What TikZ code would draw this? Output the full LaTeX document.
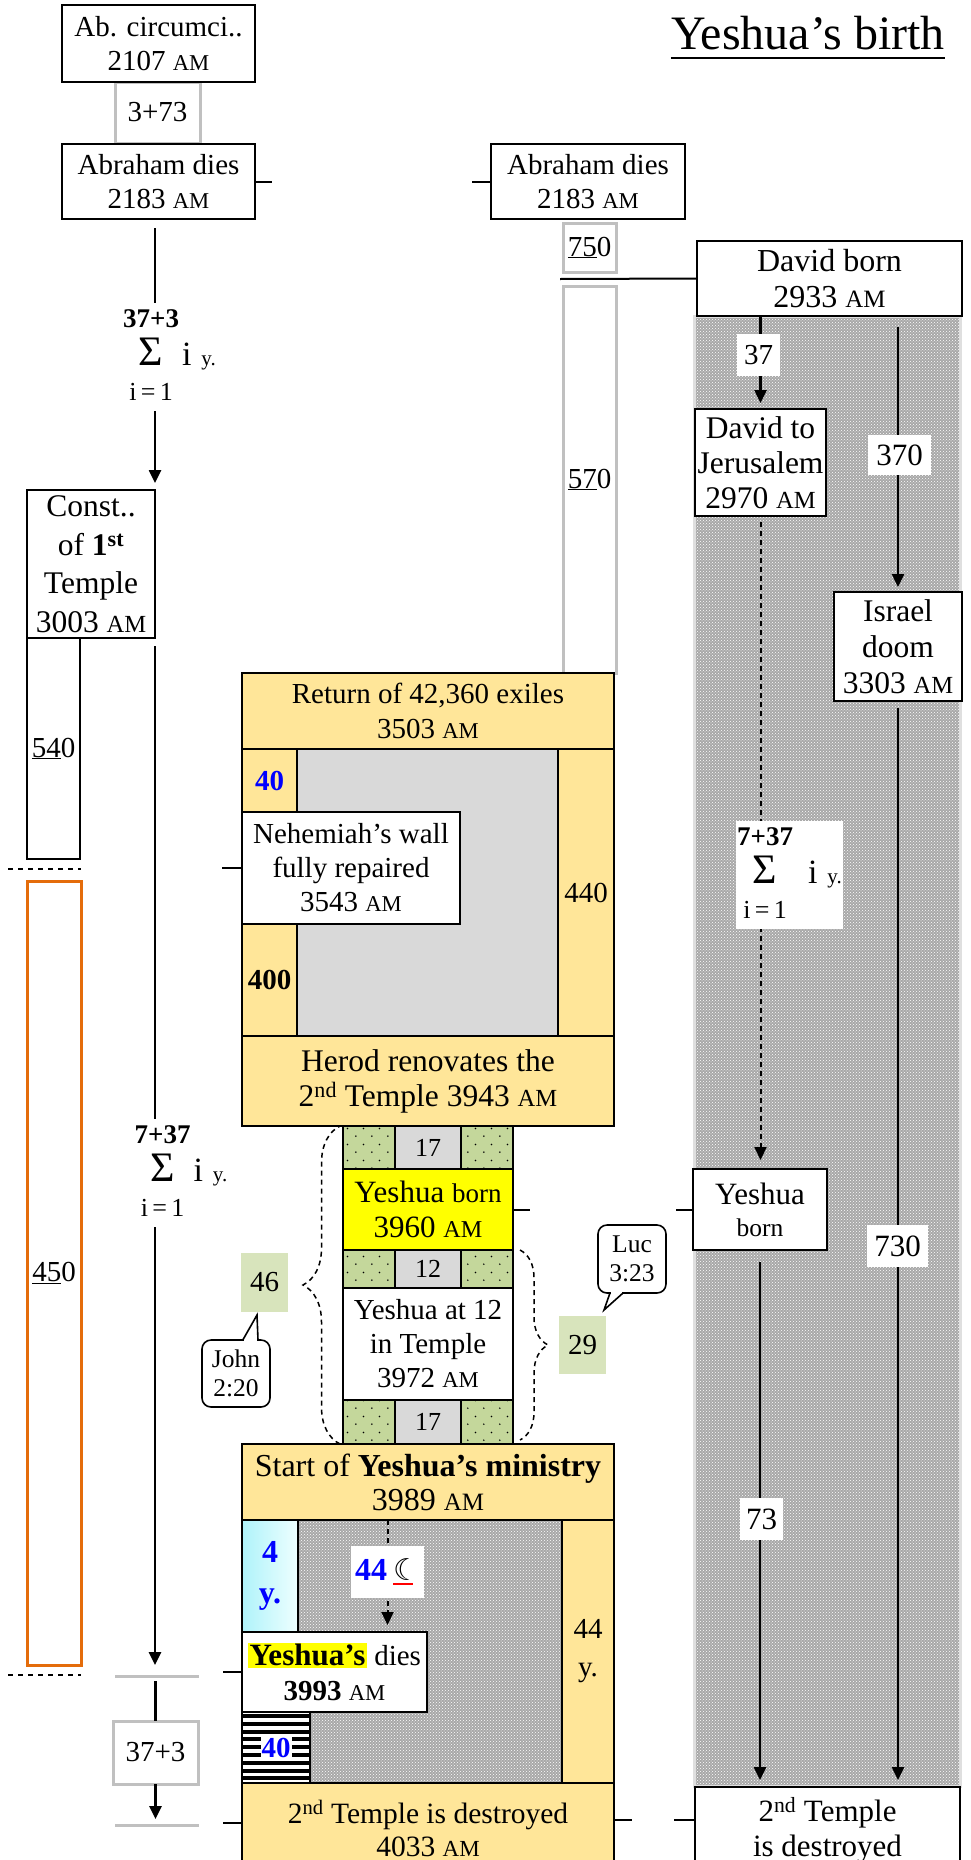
\documentclass[tikz,border=0pt]{standalone}
\usepackage{fontspec}
\setmainfont{Liberation Serif}
\newfontfamily\symfont{DejaVu Sans}
\usepackage{graphicx}
\usetikzlibrary{arrows.meta,patterns,decorations.pathreplacing,calc}
\definecolor{gold}{RGB}{255,230,153}
\definecolor{lgrey}{RGB}{217,217,217}
\definecolor{dotgreen}{RGB}{196,215,155}
\definecolor{pgreen}{RGB}{216,228,188}
\definecolor{orng}{RGB}{228,108,10}
\definecolor{bxgrey}{RGB}{192,192,192}
\definecolor{hlyellow}{RGB}{255,255,0}
\definecolor{numblue}{RGB}{0,0,255}
\definecolor{cyanL}{RGB}{175,243,250}
\definecolor{cyanR}{RGB}{238,255,255}
\pgfdeclarepatternformonly{sparsedots}{\pgfqpoint{0pt}{0pt}}{\pgfqpoint{16pt}{16pt}}{\pgfqpoint{16pt}{16pt}}{%
  \pgfpathcircle{\pgfqpoint{4pt}{4pt}}{0.9pt}%
  \pgfpathcircle{\pgfqpoint{12pt}{12pt}}{0.9pt}%
  \pgfusepath{fill}}
\newcommand\fs[2]{\fontsize{#1}{#2}\selectfont}
\newcommand\fA{\fs{29}{34.5}}
\newcommand\am{\scalebox{0.78}{AM}}
\newcommand\bxat[6]{\node[#1,anchor=north west,inner sep=0pt,outer sep=0pt,align=center,minimum width={#4-#2},minimum height={#5-#3}] (#6) at (#2,#3)}
\newcommand\sumtab[2]{%
  \begin{tabular}{@{}c@{\hspace{#2}}l@{}}
  {\bfseries\fs{27}{34}#1} & \\
  {\fs{42}{34}Σ} & {\fs{34}{34}i}\hspace{10pt}{\fs{21}{34}y.}\\
  {\fs{26}{34}i\,=\,1} & 
  \end{tabular}}
\tikzset{
  bx/.style={draw, line width=2pt},
  gbx/.style={draw=bxgrey, line width=3pt, fill=white},
  lab/.style={fill=white},
  gnum/.style={fill=pgreen},
  arr/.style={line width=2.5pt, -{Triangle[length=13pt,width=12pt]}},
  darr/.style={line width=2pt, dash pattern=on 5pt off 4pt, -{Triangle[length=13pt,width=12pt]}},
  tick/.style={line width=2pt},
  gline/.style={line width=3pt, draw=bxgrey},
  dline/.style={line width=1.8pt, dash pattern=on 5pt off 5pt},
  hatch/.style={preaction={fill=gray!68}, pattern=crosshatch dots, pattern color=white},
  dotcell/.style={bx, preaction={fill=dotgreen}, pattern=sparsedots, pattern color=black},
  bracestyle/.style={line width=1.5pt, dash pattern=on 5pt off 4pt, decorate},
  callout/.style={draw, line width=1.6pt, rounded corners=9pt, fill=white, font=\fs{25.5}{28.5}},
  sumnode/.style={fill=white, inner sep=1pt, font=\fA},
}
\begin{document}
\begin{tikzpicture}[x=1pt,y=-1pt]
\useasboundingbox (0,0) rectangle (970,1860);
\clip (0,0) rectangle (970,1860);

% ---------- title
\node[anchor=base, inner sep=0pt, font=\fs{48}{48}] (title) at (808,50) {Yeshua’s birth};
\draw[line width=2.5pt] ([yshift=-8pt]title.base west) -- ([yshift=-8pt]title.base east);

% ---------- right hatched band
\bxat{hatch, draw=gray!25, line width=3pt}{694}{316}{960}{1786}{rh}{};

% ---------- top left
\bxat{gbx,font=\fA}{115}{82}{200}{143}{g373}{3+73};
\bxat{bx,fill=white,font=\fA}{62}{5}{255}{82}{abc}{Ab. circumci..\\2107 \am};
\bxat{bx,fill=white,font=\fA}{62}{144}{255}{219}{abr1}{Abraham dies\\2183 \am};
\draw[tick] (abr1.east) -- ++(17,0);

\bxat{bx,fill=white,font=\fs{31.5}{38.5}}{27}{490}{155}{638}{cst}{Const..\\of \textbf{1\textsuperscript{st}}\\Temple\\3003 \am};
\bxat{bx,fill=white,font=\fA}{27}{638}{80}{859}{b540}{\underline{54}0};
\bxat{draw=orng, line width=3pt, font=\fA}{27}{881}{81}{1665}{o450}{\underline{45}0};
\coordinate (dl1a) at (8,869); \coordinate (dl1b) at (81,869);
\draw[dline] (dl1a) -- (dl1b);
\coordinate (dl2a) at (8,1675); \coordinate (dl2b) at (81,1675);
\draw[dline] (dl2a) -- (dl2b);

\draw[arr, shorten <=9pt, shorten >=7pt] (abr1.south -| cst.east) -- (cst.north east);
\node[sumnode] (s1) at (169.5,357) {\sumtab{37+3}{3pt}};

\coordinate (g1a) at (115,1676); \coordinate (g1b) at (199,1676);
\draw[gline] (g1a) -- (g1b);
\draw[arr, shorten <=8pt, shorten >=11pt] (cst.south east) -- (cst.east |- g1a);
\node[sumnode] (s2) at (181,1173) {\sumtab{7+37}{3pt}};

\bxat{gbx,font=\fA}{113}{1721}{198}{1784}{g37}{37+3};
\draw[line width=2.5pt, shorten <=5pt] (g37.north |- g1a) -- (g37.north);
\coordinate (g2a) at (115,1825); \coordinate (g2b) at (199,1825);
\draw[gline] (g2a) -- (g2b);
\draw[arr, shorten >=6pt] (g37.south) -- (g37.south |- g2a);

% ---------- upper middle / right
\bxat{bx,fill=white,font=\fA}{491}{144}{685}{219}{abr2}{Abraham dies\\2183 \am};
\draw[tick] (abr2.west) -- ++(-19,0);
\bxat{gbx,font=\fA}{563}{223}{616}{272}{g750}{\underline{75}0};
\bxat{gbx,font=\fA}{563}{286}{616}{673}{g570}{\underline{57}0};

\bxat{bx,fill=white,font=\fs{32}{36}}{697}{241}{962}{316}{db}{David born\\2933 \am};
\coordinate (dbl) at (560,279);
\draw[tick] (dbl) -- (db.west);

\bxat{bx,fill=white,font=\fs{31.5}{35}}{695}{409}{826}{516}{dj}{David to\\Jerusalem\\2970 \am};
\bxat{bx,fill=white,font=\fs{31.5}{36}}{834}{592}{962}{701}{isr}{Israel\\doom\\3303 \am};
\bxat{bx,fill=white,font=\fs{31}{32}}{693}{1169}{827}{1250}{yb2}{Yeshua\\{\fs{25.5}{28}born}};
\bxat{bx,fill=white,font=\fs{31}{35}}{695}{1787}{960}{1873}{td2}{2\textsuperscript{nd} Temple\\is destroyed};

\draw[arr, shorten >=6pt] (dj.north |- db.south) -- (dj.north);
\bxat{lab,font=\fA}{737}{334}{780}{376}{l37}{37};
\draw[arr, shorten <=11pt, shorten >=5pt] (isr.north |- db.south) -- (isr.north);
\bxat{lab,font=\fs{31}{31}}{868}{435}{931}{475}{l370}{370};
\draw[arr, shorten <=7pt, shorten >=7pt] (isr.south) -- (isr.south |- td2.north);
\bxat{lab,font=\fs{31}{31}}{867}{1225}{928}{1267}{l730}{730};
\draw[darr, shorten <=6pt, shorten >=9pt] (dj.south) -- (dj.south |- yb2.north);
\node[sumnode] (s3) at (789.5,875) {\sumtab{7+37}{15pt}};
\draw[arr, shorten <=12pt, shorten >=7pt] (yb2.south) -- (yb2.south |- td2.north);
\bxat{lab,font=\fs{31}{31}}{740}{1498}{783}{1540}{l73}{73};
\draw[tick] (yb2.west) -- ++(-17,0);
\draw[tick] ($(td2.north west)+(0,33)$) -- ++(-21,0);

% ---------- central block
\bxat{bx,fill=gold,font=\fA}{242}{673}{614}{749}{ret}{Return of 42,360 exiles\\3503 \am};
\bxat{bx,fill=lgrey}{297}{749}{558}{1036}{gry}{};
\bxat{bx,fill=gold,font=\fA}{558}{749}{614}{1036}{c440}{440};
\bxat{bx,fill=gold,font=\bfseries\fA,text=numblue}{242}{749}{297}{812}{c40}{40};
\bxat{bx,fill=white,font=\fs{29}{34}}{242}{812}{460}{924}{neh}{Nehemiah’s wall\\fully repaired\\3543 \am};
\draw[tick] (neh.west) -- ++(-20,0);
\bxat{bx,fill=gold,font=\bfseries\fA}{242}{924}{297}{1036}{c400}{400};
\bxat{bx,fill=gold,font=\fs{31.5}{35}}{242}{1036}{614}{1126}{her}{Herod renovates the\\2\textsuperscript{nd} Temple 3943 \am};

\bxat{dotcell}{343}{1126}{395}{1169}{r1a}{};
\bxat{bx,fill=lgrey,font=\fs{26}{26}}{395}{1126}{461}{1169}{r1b}{17};
\bxat{dotcell}{461}{1126}{513}{1169}{r1c}{};
\bxat{bx,fill=hlyellow,font=\fs{31}{35}}{343}{1169}{513}{1250}{yb}{Yeshua {\fs{27}{27}born}\\3960 \am};
\draw[tick] (yb.east) -- ++(17,0);
\bxat{dotcell}{343}{1250}{395}{1288}{r2a}{};
\bxat{bx,fill=lgrey,font=\fs{26}{26}}{395}{1250}{461}{1288}{r2b}{12};
\bxat{dotcell}{461}{1250}{513}{1288}{r2c}{};
\bxat{bx,fill=white,font=\fs{29}{34}}{343}{1288}{513}{1400}{y12}{Yeshua at 12\\in Temple\\3972 \am};
\bxat{dotcell}{343}{1400}{395}{1444}{r3a}{};
\bxat{bx,fill=lgrey,font=\fs{26}{26}}{395}{1400}{461}{1444}{r3b}{17};
\bxat{dotcell}{461}{1400}{513}{1444}{r3c}{};

% braces
\coordinate (lb1) at (340,1444); \coordinate (lb2) at (340,1126);
\draw[bracestyle, decoration={brace, amplitude=37pt}] (lb1) -- (lb2);
\coordinate (rb1) at (520,1250); \coordinate (rb2) at (520,1440);
\draw[bracestyle, decoration={brace, amplitude=28pt}] (rb1) -- (rb2);

\bxat{gnum,font=\fA}{241}{1253}{288}{1312}{g46}{46};
\bxat{gnum,font=\fA}{559}{1316}{606}{1374}{g29}{29};

% callouts
\bxat{callout}{202}{1340}{270}{1407}{john}{John\\2:20};
\fill[white] (243.6,1338.6) rectangle (257.2,1341.4);
\draw[line width=1.6pt, line join=miter] (242.8,1340) -- (257,1315) -- (258,1340);
\bxat{callout}{598}{1225}{666}{1293}{luc}{Luc\\3:23};
\fill[white] (610.8,1291.6) rectangle (622.2,1294.4);
\draw[line width=1.6pt, line join=miter] (610,1293) -- (604,1310) -- (623,1293);

% lower block
\bxat{bx,hatch}{298}{1520}{562}{1783}{hc}{};
\bxat{bx,left color=cyanL,right color=cyanR,font=\bfseries\fs{32}{41},text=numblue}{242}{1520}{298}{1632}{cy}{4\\y.};
\bxat{bx,fill=gold,font=\fs{29}{38}}{562}{1520}{614}{1783}{c44}{44\\y.};
\bxat{bx,fill=gold,font=\fs{32}{34}}{242}{1444}{614}{1520}{sm}{Start of \textbf{Yeshua’s ministry}\\3989 \am};
\bxat{bx,fill=white,font=\fs{29}{35}}{242}{1632}{427}{1712}{ydie}{{\setlength\fboxsep{1.5pt}\colorbox{hlyellow}{\fs{31}{35}\bfseries Yeshua’s}} dies\\\textbf{3993} \am};
\draw[tick] (ydie.west) -- ++(-19,0);

\bxat{fill=white}{242}{1712}{310}{1783}{strp}{};
\foreach \k in {0,...,8} {\fill (242,1714+\k*7.8) rectangle (310,1718+\k*7.8);}
\draw[line width=2pt] (strp.north west) rectangle (strp.south east);
\node[fill=white, inner sep=1pt, font=\bfseries\fA, text=numblue] (l40) at (276,1748) {40};

\coordinate (mc) at (387.5,1572);
\draw[darr, shorten >=7pt] (mc |- sm.south) -- (mc |- ydie.north);
\node[fill=white, inner sep=0pt, minimum width=73, minimum height=52] (moon) at (mc)
  {\textcolor{numblue}{\bfseries\fs{32}{32}44}\hspace{6pt}\textcolor{red}{\rlap{\rule[-5pt]{20pt}{2pt}}}{\symfont\fs{30}{30}☾}};

\bxat{bx,fill=gold,font=\fs{29.5}{33}}{242}{1783}{614}{1874}{td}{2\textsuperscript{nd} Temple is destroyed\\4033 \am};
\draw[tick] ($(td.north west)+(0,40)$) -- ++(-19,0);
\draw[tick] ($(td.north east)+(0,37)$) -- ++(18,0);
\end{tikzpicture}
\end{document}
